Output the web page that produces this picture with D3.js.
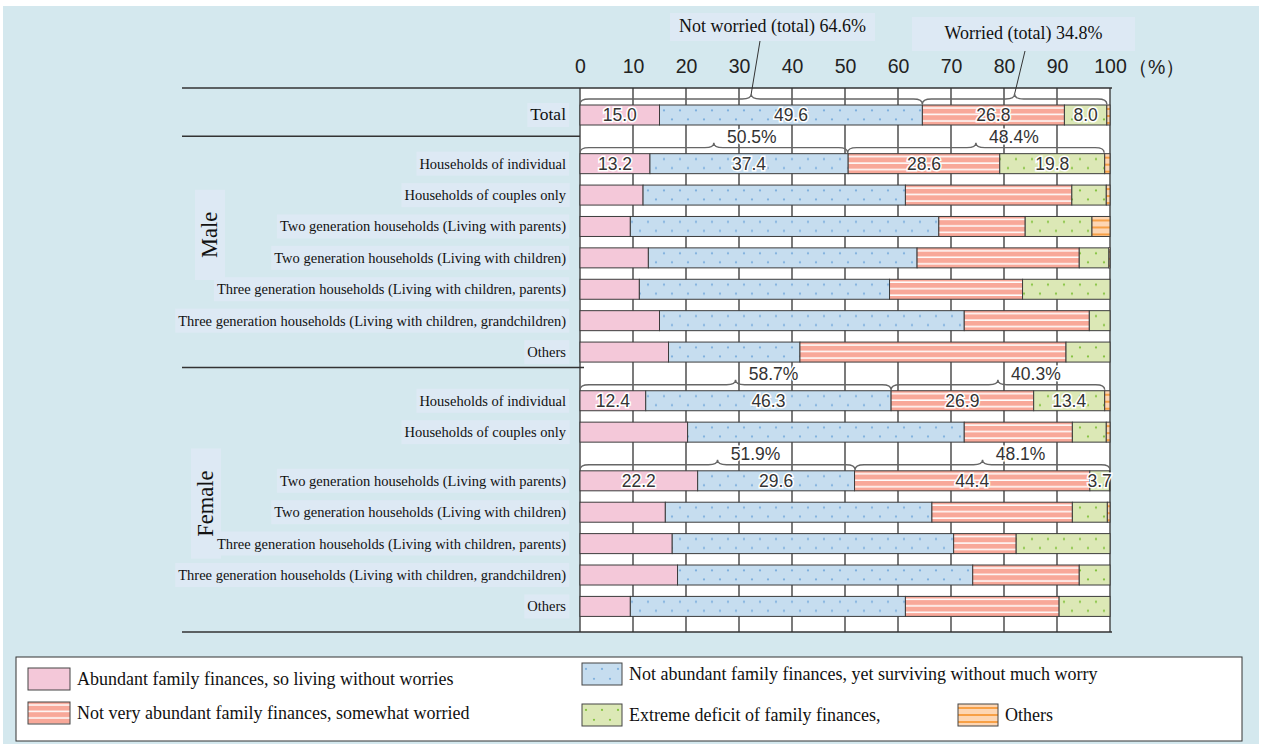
<!DOCTYPE html>
<html><head><meta charset="utf-8">
<script src="https://cdn.jsdelivr.net/npm/d3@7"></script>
<style>html,body{margin:0;padding:0;background:#fff;} svg{display:block}</style>
</head><body>
<svg id="chart" width="1264" height="744"></svg>
<script>
// ---------------- DATA ----------------
const seriesNames = [
  "Abundant family finances, so living without worries",
  "Not abundant family finances, yet surviving without much worry",
  "Not very abundant family finances, somewhat worried",
  "Extreme deficit of family finances,",
  "Others"
];
const rowLabels = [
  "Total",
  "Households of individual",
  "Households of couples only",
  "Two generation households (Living with parents)",
  "Two generation households (Living with children)",
  "Three generation households (Living with children, parents)",
  "Three generation households (Living with children, grandchildren)",
  "Others",
  "Households of individual",
  "Households of couples only",
  "Two generation households (Living with parents)",
  "Two generation households (Living with children)",
  "Three generation households (Living with children, parents)",
  "Three generation households (Living with children, grandchildren)",
  "Others"
];
const rowGroups = ["", "Male","Male","Male","Male","Male","Male","Male",
  "Female","Female","Female","Female","Female","Female","Female"];
const groupNames = ["Male", "Female"];

const abundant    = [15.0, 13.2, 11.9,  9.5, 12.9, 11.2, 15.0, 16.7, 12.4, 20.3, 22.2, 16.1, 17.4, 18.4,  9.5];
const notAbundant = [49.6, 37.4, 49.5, 58.2, 50.7, 47.2, 57.5, 24.8, 46.3, 52.2, 29.6, 50.3, 53.1, 55.7, 51.9];
const somewhat    = [26.8, 28.6, 31.4, 16.3, 30.6, 25.1, 23.6, 50.2, 26.9, 20.4, 44.4, 26.5, 11.8, 20.1, 29.0];
const extreme     = [ 8.0, 19.8,  6.5, 12.6,  5.6, 16.5,  3.9,  8.3, 13.4,  6.4,  3.7,  6.6, 17.7,  5.8,  9.6];
const others      = [ 0.6,  1.0,  0.7,  3.4,  0.2,  0.0,  0.0,  0.0,  1.0,  0.7,  0.1,  0.5,  0.0,  0.0,  0.0];

const numberedRows = [0, 1, 8, 10];
const braceRows = [0, 1, 8, 10];
const notWorriedTotal = [64.6, 50.5, 58.7, 51.9];
const worriedTotal = [34.8, 48.4, 40.3, 48.1];
const calloutTexts = ["Not worried (total) 64.6%", "Worried (total) 34.8%"];
const tickValues = [0, 10, 20, 30, 40, 50, 60, 70, 80, 90, 100];
const unitLabel = "（%）";

// ---------------- STYLE ----------------
const fills = ["#f4c8d9", "#c6ddef", "#f8a899", "#dce8b6", "#fdd6b3"];
const markCol = [null, "#7fb0de", "#ffffff", "#83c23e", "#f7a046"];
const kind = ["solid", "dots", "stripes", "dots", "stripes2"];
const BG = "#d4e8ee", BOX = "#dde9f4", LINE = "#333";
const serif = "'Liberation Serif','Times New Roman',serif";
const sans = "'Liberation Sans',Arial,sans-serif";

const svg = d3.select("#chart");
svg.append("rect").attr("x", 3).attr("y", 6).attr("width", 1256).attr("height", 738).attr("fill", BG);
const defs = svg.append("defs");

function makePattern(id, k, x0, y0, h) {
  const p = defs.append("pattern").attr("id", id).attr("patternUnits", "userSpaceOnUse")
    .attr("x", x0).attr("y", y0);
  if (kind[k] === "dots") {
    p.attr("width", 16).attr("height", h);
    p.append("rect").attr("width", 16).attr("height", h).attr("fill", fills[k]);
    p.append("circle").attr("cx", 4).attr("cy", h * 0.27).attr("r", 1.1).attr("fill", markCol[k]);
    p.append("circle").attr("cx", 12).attr("cy", h * 0.72).attr("r", 1.1).attr("fill", markCol[k]);
  } else if (kind[k] === "stripes") {
    p.attr("width", 10).attr("height", 6.5);
    p.append("rect").attr("width", 10).attr("height", 6.5).attr("fill", fills[k]);
    p.append("rect").attr("y", 2.2).attr("width", 10).attr("height", 1.5).attr("fill", markCol[k]);
  } else if (kind[k] === "stripes2") {
    p.attr("width", 10).attr("height", 7);
    p.append("rect").attr("width", 10).attr("height", 7).attr("fill", fills[k]);
    p.append("rect").attr("y", 3).attr("width", 10).attr("height", 2).attr("fill", markCol[k]);
  } else {
    p.attr("width", 10).attr("height", 10);
    p.append("rect").attr("width", 10).attr("height", 10).attr("fill", fills[k]);
  }
  return `url(#${id})`;
}

// ---------------- SCALES ----------------
const x = d3.scaleLinear().domain([0, 100]).range([580, 1110]);
const slots = [];
let sAcc = 0;
rowLabels.forEach((d, i) => { if (i > 0) sAcc += 1 + (braceRows.includes(i) ? 0.55 : 0); slots.push(sAcc); });
const y = d3.scaleLinear().domain([0, sAcc]).range([115, 115 + sAcc * 31.4]);
const rowY = i => y(slots[i]);
const BH = 20;
const plotTop = 88, plotBottom = 632;

// plot background
svg.append("rect").attr("x", x(0)).attr("y", plotTop).attr("width", x(100) - x(0))
  .attr("height", plotBottom - plotTop).attr("fill", "#fff");

// grid lines
svg.append("g").selectAll("line").data(tickValues).join("line")
  .attr("x1", d => x(d)).attr("x2", d => x(d)).attr("y1", plotTop).attr("y2", plotBottom)
  .attr("stroke", LINE).attr("stroke-width", 1.3);

// separators
const seps = [
  { y: plotTop, x1: 182, x2: x(100) + 2 },
  { y: (rowY(0) + rowY(1)) / 2 - 3, x1: 182, x2: x(0) },
  { y: (rowY(7) + rowY(8)) / 2 - 9, x1: 182, x2: x(0) + 4 },
  { y: plotBottom, x1: 182, x2: x(100) + 2 }
];
svg.append("g").selectAll("line").data(seps).join("line")
  .attr("x1", d => d.x1).attr("x2", d => d.x2).attr("y1", d => d.y).attr("y2", d => d.y)
  .attr("stroke", LINE).attr("stroke-width", 1.5);

// axis
const axis = d3.axisTop(x).tickValues(tickValues).tickSize(0).tickPadding(2);
const ag = svg.append("g").attr("transform", "translate(0,75)").call(axis);
ag.select(".domain").remove();
ag.selectAll("text").attr("font-family", sans).attr("font-size", 19.5).attr("fill", "#222");
svg.append("text").attr("x", 1128).attr("y", 74).attr("font-family", sans).attr("font-size", 19.5)
  .attr("fill", "#222").text(unitLabel);

// ---------------- BARS ----------------
const table = rowLabels.map((r, i) => ({ row: i, s0: abundant[i], s1: notAbundant[i], s2: somewhat[i], s3: extreme[i], s4: others[i] }));
const keys = ["s0", "s1", "s2", "s3", "s4"];
const stacked = d3.stack().keys(keys)(table);

const barG = svg.append("g");
stacked.forEach((layer, k) => {
  layer.forEach((d, i) => {
    const w = x(d[1]) - x(d[0]);
    if (w <= 0.05) return;
    const top = rowY(i) - BH / 2;
    const f = makePattern(`p${k}_${i}`, k, x(0), top, BH);
    barG.append("rect").attr("x", x(d[0])).attr("y", top).attr("width", w).attr("height", BH)
      .attr("fill", f).attr("stroke", "#3c3c3c").attr("stroke-width", 1);
  });
});

// value labels
const valG = svg.append("g");
numberedRows.forEach(i => {
  [0, 1, 2, 3].forEach(k => {
    const d = stacked[k][i];
    const v = d[1] - d[0];
    if (v <= 0) return;
    valG.append("text").attr("x", x((d[0] + d[1]) / 2)).attr("y", rowY(i) + 6)
      .attr("text-anchor", "middle").attr("font-family", sans).attr("font-size", 17.5)
      .attr("fill", "#333").attr("stroke", "#fff").attr("stroke-width", 3).attr("paint-order", "stroke")
      .text(v.toFixed(1));
  });
});

// braces
function bracePath(x1, x2, yb, h) {
  const m = (x1 + x2) / 2, r = Math.min(9, (x2 - x1) / 4), yh = yb - h / 2;
  return `M${x1},${yb} Q${x1},${yh} ${x1 + r},${yh} L${m - r},${yh} Q${m},${yh} ${m},${yb - h} ` +
         `Q${m},${yh} ${m + r},${yh} L${x2 - r},${yh} Q${x2},${yh} ${x2},${yb}`;
}
const braceG = svg.append("g");
const peaks = [];
braceRows.forEach((i, j) => {
  const yb = rowY(i) - BH / 2 - 1;
  const a = notWorriedTotal[j], b = notWorriedTotal[j] + worriedTotal[j];
  const spans = [[0, a], [a, b]];
  spans.forEach((sp, q) => {
    braceG.append("path").attr("d", bracePath(x(sp[0]), x(sp[1]), yb, 10))
      .attr("fill", "none").attr("stroke", "#666").attr("stroke-width", 1.4);
    const px = x((sp[0] + sp[1]) / 2);
    peaks.push({ j, q, px, py: yb - 10 });
    if (j > 0) {
      braceG.append("text").attr("x", px + 38).attr("y", yb - 10)
        .attr("text-anchor", "middle").attr("font-family", sans).attr("font-size", 17.5)
        .attr("fill", "#333").attr("stroke", "#fff").attr("stroke-width", 3).attr("paint-order", "stroke")
        .text((q === 0 ? notWorriedTotal[j] : worriedTotal[j]).toFixed(1) + "%");
    }
  });
});

// callouts for Total
const callBoxes = [{ x: 670, y: 13, w: 205, h: 28, lx: 760 }, { x: 912, y: 17, w: 223, h: 34, lx: 1025 }];
callBoxes.forEach((b, q) => {
  const pk = peaks.find(p => p.j === 0 && p.q === q);
  svg.append("rect").attr("x", b.x).attr("y", b.y).attr("width", b.w).attr("height", b.h).attr("fill", BOX);
  svg.append("text").attr("x", b.x + b.w / 2).attr("y", b.y + b.h / 2 + 5).attr("text-anchor", "middle")
    .attr("font-family", serif).attr("font-size", 18).attr("fill", "#111").text(calloutTexts[q]);
  svg.append("line").attr("x1", b.lx).attr("y1", b.y + b.h).attr("x2", pk.px).attr("y2", pk.py)
    .attr("stroke", "#333").attr("stroke-width", 1);
});

// ---------------- GROUP LABELS (behind row labels) ----------------
groupNames.forEach(gname => {
  const idx = rowGroups.map((g, i) => g === gname ? i : -1).filter(i => i >= 0);
  const cy = (rowY(idx[0]) + rowY(idx[idx.length - 1])) / 2 + (gname === "Male" ? -23 : 0);
  const cx = gname === "Male" ? 210 : 206;
  const g = svg.append("g").attr("transform", `translate(${cx},${cy}) rotate(-90)`);
  const t = g.append("text").attr("text-anchor", "middle").attr("y", 7)
    .attr("font-family", serif).attr("font-size", 22.5).attr("fill", "#111").text(gname);
  const bb = t.node().getBBox();
  g.insert("rect", "text").attr("x", bb.x - 22).attr("y", -15).attr("width", bb.width + 44)
    .attr("height", 30).attr("fill", BOX);
});

// ---------------- ROW LABELS ----------------
const labG = svg.append("g");
rowLabels.forEach((lab, i) => {
  const g = labG.append("g");
  const t = g.append("text").attr("x", 566).attr("y", rowY(i) + 5).attr("text-anchor", "end")
    .attr("font-family", serif).attr("font-size", i === 0 ? 17.5 : 14.5).attr("fill", "#111").text(lab);
  const bb = t.node().getBBox();
  g.insert("rect", "text").attr("x", bb.x - 3).attr("y", rowY(i) - 12).attr("width", bb.width + 6)
    .attr("height", 24).attr("fill", BOX);
});

// ---------------- LEGEND ----------------
svg.append("rect").attr("x", 16).attr("y", 657).attr("width", 1226).attr("height", 84)
  .attr("fill", "#fff").attr("stroke", "#333").attr("stroke-width", 1);
const legPos = [[28, 668, 42], [582, 663, 40], [28, 702, 42], [582, 704, 40], [958, 704, 40]];
seriesNames.forEach((name, k) => {
  const [lx, ly, lw] = legPos[k];
  const f = makePattern(`leg${k}`, k, lx, ly, 22);
  svg.append("rect").attr("x", lx).attr("y", ly).attr("width", lw).attr("height", 22)
    .attr("fill", f).attr("stroke", "#444").attr("stroke-width", 1);
  svg.append("text").attr("x", lx + lw + 7).attr("y", ly + 17).attr("font-family", serif)
    .attr("font-size", 18).attr("fill", "#111").text(name);
});
</script>
</body></html>
